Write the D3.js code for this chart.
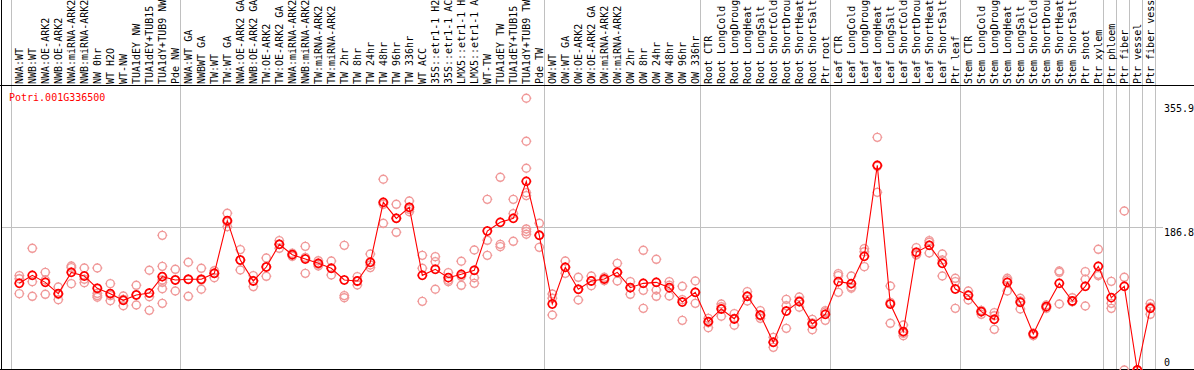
<!DOCTYPE html>
<meta charset="utf-8">
<style>

body {
  margin: 0;
  background: #fff;
}

svg {
  display: block;
  font-family: "DejaVu Sans Mono", monospace;
  font-size: 10px;
}

.frame {
  stroke: #000;
  stroke-width: 1.5px;
  shape-rendering: crispEdges;
}

.grid {
  stroke: #c0c0c0;
  stroke-width: 1px;
  shape-rendering: crispEdges;
}

.label {
  fill: #000;
}

.rep {
  fill: none;
  stroke: #f09898;
  stroke-width: 1.4px;
}

.mean {
  fill: none;
  stroke: #ff0000;
  stroke-width: 1.7px;
}

.line {
  fill: none;
  stroke: #ff0000;
  stroke-width: 1.1px;
}

</style>
<svg width="1194" height="370"></svg>
<script src="https://cdn.jsdelivr.net/npm/d3@7"></script>
<script>

var gene = "Potri.001G336500";

var categories = [
  "NWA:WT", "NWB:WT", "NWA:OE-ARK2", "NWB:OE-ARK2", "NWA:miRNA-ARK2", "NWB:miRNA-ARK2",
  "NW 0hr", "WT H2O", "WT-NW", "TUA1dEY NW", "TUA1dEY+TUB15", "TUA1dY+TUB9 NW", "Pde NW",
  "NWA:WT GA", "NWBWT GA", "TW:WT", "TW:WT GA", "NWA:OE-ARK2 GA", "NWB:OE-ARK2 GA",
  "TW:OE-ARK2", "TW:OE-ARK2 GA", "NWA:miRNA-ARK2", "NWB:miRNA-ARK2", "TW:miRNA-ARK2",
  "TW:miRNA-ARK2", "TW 2hr", "TW 8hr", "TW 24hr", "TW 48hr", "TW 96hr", "TW 336hr",
  "WT ACC", "35S::etr1-1 H2", "35S::etr1-1 AC", "LMX5::etr1-1 H", "LMX5::etr1-1 A",
  "WT-TW", "TUA1dEY TW", "TUA1dEY+TUB15", "TUA1dY+TUB9 TW", "Pde TW",
  "OW:WT", "OW:WT GA", "OW:OE-ARK2", "OW:OE-ARK2 GA", "OW:miRNA-ARK2", "OW:miRNA-ARK2",
  "OW 2hr", "OW 8hr", "OW 24hr", "OW 48hr", "OW 96hr", "OW 336hr",
  "Root CTR", "Root LongCold", "Root LongDroug", "Root LongHeat", "Root LongSalt",
  "Root ShortCold", "Root ShortDrou", "Root ShortHeat", "Root ShortSalt", "Ptr root",
  "Leaf CTR", "Leaf LongCold", "Leaf LongDroug", "Leaf LongHeat", "Leaf LongSalt",
  "Leaf ShortCold", "Leaf ShortDrou", "Leaf ShortHeat", "Leaf ShortSalt", "Ptr leaf",
  "Stem CTR", "Stem LongCold", "Stem LongDroug", "Stem LongHeat", "Stem LongSalt",
  "Stem ShortCold", "Stem ShortDrou", "Stem ShortHeat", "Stem ShortSalt",
  "Ptr shoot", "Ptr xylem", "Ptr phloem", "Ptr fiber", "Ptr vessel", "Ptr fiber vess"
];

// group boundaries (index of first category in each block)
var groupStarts = [0, 13, 41, 53, 63, 73, 84, 85, 86, 87, 88];

var means = [
  113.6, 124.1, 114.9, 100.1, 128.0, 123.2, 107.1, 100.1, 91.3, 98.3, 100.9, 122.4, 118.0,
  118.9, 118.9, 126.7, 195.8, 144.2, 116.7, 135.0, 164.7, 151.2, 145.5, 139.8, 133.3,
  118.0, 116.7, 141.2, 219.8, 198.8, 213.3, 124.1, 132.0, 121.0, 125.4, 130.7, 182.2,
  193.6, 198.8, 247.3, 176.5,
  86.5, 134.6, 105.8, 116.7, 119.3, 128.0, 107.9, 113.6, 114.9, 107.9, 89.1, 101.8,
  63.4, 80.0, 66.9, 96.6, 72.1, 36.3, 77.3, 89.6, 60.3, 73.0,
  115.8, 113.2, 149.0, 268.3, 86.5, 50.3, 154.3, 163.4, 139.8, 106.2,
  97.9, 76.5, 66.4, 114.9, 88.7, 47.2, 83.0, 113.6, 90.5, 109.7, 135.9,
  94.8, 109.7, 0, 80.8
];

var replicates = [
  [123.7, 119.7, 100.1], [159.5, 115.8, 96.6], [128.0, 118.0, 99.2], [108.8, 99.2, 92.2],
  [136.3, 134.2, 113.2], [133.7, 118.9, 114.5], [133.7, 100.5, 97.5, 95.3], [113.2, 97.5, 90.9],
  [97.0, 92.6, 84.3], [111.0, 98.8, 85.2], [130.7, 96.1, 78.2],
  [176.5, 135.9, 118.0, 114.9, 106.6, 87.4], [132.0, 118.4, 103.6],
  [141.2, 118.9, 96.6], [133.3, 117.6, 105.8], [130.2, 126.7, 121.0], [205.4, 194.0, 187.9],
  [157.8, 143.8, 131.1], [123.7, 117.1, 109.3], [146.8, 135.5, 122.8], [169.6, 164.7, 159.5],
  [153.0, 150.8, 149.0], [162.1, 147.7, 126.7], [143.3, 138.5, 136.3], [142.9, 133.7, 124.5],
  [163.4, 97.5, 94.8], [122.4, 116.2, 111.4], [152.1, 137.7, 134.2], [250.0, 217.2, 192.3],
  [217.2, 198.8, 180.5], [221.6, 210.6, 207.6], [150.3, 133.3, 90.0], [148.6, 142.0, 105.8],
  [127.6, 117.6, 115.8], [142.5, 122.8, 111.0], [157.3, 121.0, 113.6], [223.7, 170.0, 150.3],
  [252.6, 164.7, 161.7], [223.7, 205.0, 168.7],
  [356.2, 299.8, 264.4, 232.5, 228.6, 184.9, 181.4, 177.9], [192.3, 177.0, 160.8],
  [99.6, 94.0, 72.1], [142.9, 134.6, 126.7], [121.5, 105.8, 91.8], [123.2, 116.7, 110.6],
  [121.5, 119.3, 117.1], [139.8, 128.0, 116.7], [115.8, 107.9, 99.2], [156.9, 104.4, 80.8],
  [145.1, 104.9, 96.6], [115.8, 111.0, 97.0], [109.7, 92.2, 65.1], [116.7, 101.8, 87.4],
  [67.7, 62.1, 55.5], [86.5, 83.0, 70.4], [73.9, 67.7, 58.6], [102.7, 96.6, 90.5],
  [77.8, 70.8, 67.7], [42.8, 36.3, 29.7], [92.6, 84.3, 54.6], [95.7, 90.9, 82.2],
  [66.4, 61.6, 52.9], [77.8, 76.0, 65.1],
  [126.3, 123.7, 101.8], [123.2, 108.8, 107.1], [159.1, 155.1, 135.5], [305.0, 267.0, 232.9],
  [110.1, 88.7, 61.2], [59.0, 48.1, 45.0], [160.4, 151.6, 150.8], [169.6, 167.4, 153.4],
  [152.1, 144.2, 123.2], [120.2, 115.8, 80.8],
  [103.6, 98.3, 91.8], [78.2, 76.5, 73.0], [75.2, 71.2, 53.3], [120.2, 118.0, 103.6],
  [94.0, 90.5, 80.0], [48.1, 48.1, 45.0], [85.2, 82.6, 80.8], [129.8, 128.0, 86.5],
  [94.8, 89.6, 89.6], [128.9, 118.9, 83.9], [158.2, 125.4, 123.7],
  [116.2, 87.4, 80.8], [208.4, 121.5, 0], [0, 0, 0], [87.0, 82.6, 73.0]
];

var yTicks = [0, 186.8, 355.9];

var svg = d3.select("svg"),
    width = +svg.attr("width"),
    height = +svg.attr("height"),
    headerY = 85,
    labelBase = 84;

var x = d3.scaleBand()
    .domain(d3.range(categories.length))
    .range([11.5, 11.5 + 13 * categories.length]);

var y = d3.scaleLinear()
    .domain([0, 355.9])
    .range([370, 98.5]);

function px(i) { return x(i) + 7.8; }
function edge(k) { return x.range()[0] + k * x.step(); }

// vertical group lines (full height, header included)
svg.append("g").selectAll("line")
    .data(groupStarts)
  .enter().append("line")
    .attr("class", "grid")
    .attr("x1", edge).attr("x2", edge)
    .attr("y1", 0).attr("y2", height);

// horizontal grid line at middle tick
svg.append("line")
    .attr("class", "grid")
    .attr("x1", 1).attr("x2", 1163)
    .attr("y1", Math.round(y(yTicks[1])) + 0.5)
    .attr("y2", Math.round(y(yTicks[1])) + 0.5);

// category labels
svg.append("g").selectAll("text")
    .data(categories)
  .enter().append("text")
    .attr("class", "label")
    .attr("transform", function(d, i) { return "translate(" + (px(i) + 4) + "," + labelBase + ")rotate(-90)"; })
    .text(function(d) { return d; });

// frame
svg.append("line").attr("class", "frame")
    .attr("x1", 0).attr("x2", width).attr("y1", headerY + 0.5).attr("y2", headerY + 0.5);
svg.append("line").attr("class", "frame")
    .attr("x1", 0).attr("x2", width).attr("y1", height - 0.5).attr("y2", height - 0.5);
svg.append("line").attr("class", "frame")
    .attr("x1", 1.5).attr("x2", 1.5).attr("y1", 0).attr("y2", height);

// y axis on the right
var axis = svg.append("g")
    .attr("transform", "translate(1164,0)")
    .call(d3.axisRight(y).tickValues(yTicks).tickSize(0).tickPadding(0)
      .tickFormat(function(d) { return d === 0 ? "0" : d3.format(".1f")(d); }));
axis.select(".domain").remove();
axis.selectAll("text")
    .attr("font-family", "DejaVu Sans Mono, monospace")
    .attr("font-size", 10)
    .attr("fill", "#000")
    .attr("dy", function(d) { return d === 0 ? -5 : (d === 355.9 ? 12.8 : 8.5); })
    .attr("x", 0);

// gene name
svg.append("text")
    .attr("x", 9)
    .attr("y", 100.5)
    .attr("fill", "#ff0000")
    .text(gene);

// circle marker with small ticks
function marker(r) {
  return "M" + r + ",0A" + r + "," + r + " 0 1,1 " + (-r) + ",0A" + r + "," + r + " 0 1,1 " + r + ",0"
    + "M0," + (-r - 1) + "V" + (-r) + "M0," + r + "V" + (r + 1)
    + "M" + (-r - 1) + ",0H" + (-r) + "M" + r + ",0H" + (r + 1);
}

var repPoints = [];
replicates.forEach(function(vals, i) {
  vals.forEach(function(v) { repPoints.push({i: i, v: v}); });
});

svg.append("g").selectAll("path")
    .data(repPoints)
  .enter().append("path")
    .attr("class", "rep")
    .attr("transform", function(d) { return "translate(" + px(d.i) + "," + y(d.v) + ")"; })
    .attr("d", marker(4));

svg.append("path")
    .datum(means)
    .attr("class", "line")
    .attr("d", d3.line()
      .x(function(d, i) { return px(i); })
      .y(function(d) { return y(d); }));

svg.append("g").selectAll("path")
    .data(means)
  .enter().append("path")
    .attr("class", "mean")
    .attr("transform", function(d, i) { return "translate(" + px(i) + "," + y(d) + ")"; })
    .attr("d", marker(4));

</script>
